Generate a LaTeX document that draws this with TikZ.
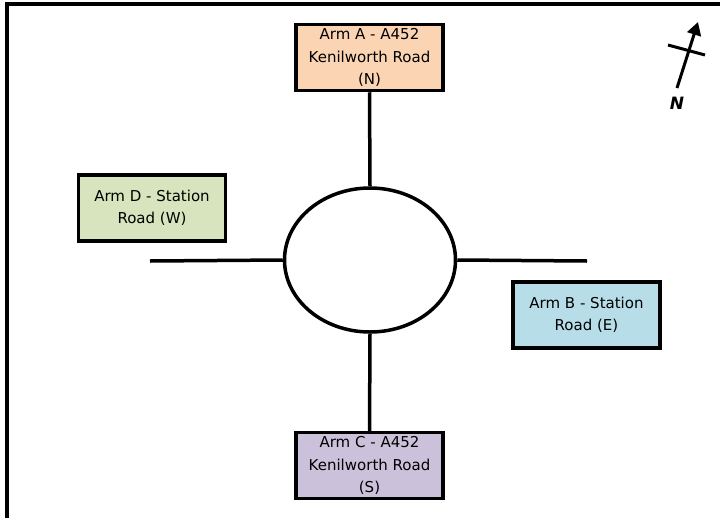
\documentclass[tikz,border=0pt]{standalone}
\usepackage{fontspec}
\setmainfont{DejaVu Sans}
\usetikzlibrary{shapes.geometric,arrows.meta}
\definecolor{peach}{HTML}{FBD4B4}
\definecolor{lgreen}{HTML}{D7E4BD}
\definecolor{lblue}{HTML}{B7DEE8}
\definecolor{lpurple}{HTML}{CCC1DA}
\tikzset{
  armbox/.style={draw, line width=3.5pt, minimum width=147pt, minimum height=66pt, inner sep=0pt, align=center, font=\fontsize{15}{22.5}\selectfont},
  road/.style={line width=3.5pt},
}
\begin{document}
\begin{tikzpicture}[x=1pt,y=-1pt]
\useasboundingbox (0,0) rectangle (720,517);
\fill[white] (0,0) rectangle (720,517);
\coordinate (fr1) at (7,520);
\coordinate (fr2) at (7,4);
\coordinate (fr3) at (723,4);
\draw[line width=3.5pt] (fr1) -- (fr2) -- (fr3);
\node[armbox, fill=peach] (A) at (369.5,57.5) {Arm A - A452\\Kenilworth Road\\(N)};
\node[armbox, fill=lgreen] (D) at (152,208) {Arm D - Station\\Road (W)};
\node[armbox, fill=lblue] (B) at (586.5,315) {Arm B - Station\\Road (E)};
\node[armbox, fill=lpurple] (C) at (369.5,465.5) {Arm C - A452\\Kenilworth Road\\(S)};
\node[draw, ellipse, line width=3.5pt, minimum width=171pt, minimum height=144pt, inner sep=0pt] (E) at (370,260) {};
\coordinate (wend) at (150,261);
\coordinate (eend) at (587,261);
\draw[road] (A.south) -- (E.north);
\draw[road] (wend) -- (E.west);
\draw[road] (E.east) -- (eend);
\draw[road] (E.south) -- (C.north);
% north arrow
\coordinate (ntail) at (677,88);
\coordinate (ntip) at (698,22);
\coordinate (nb1) at (668,45);
\coordinate (nb2) at (705,55);
\draw[line width=3pt, -{Triangle[length=13pt,width=14pt]}] (ntail) -- (ntip);
\draw[line width=3pt] (nb1) -- (nb2);
\node[font=\fontsize{17}{17}\selectfont\bfseries\itshape, inner sep=0pt] (N) at (677,103) {N};
\end{tikzpicture}
\end{document}
